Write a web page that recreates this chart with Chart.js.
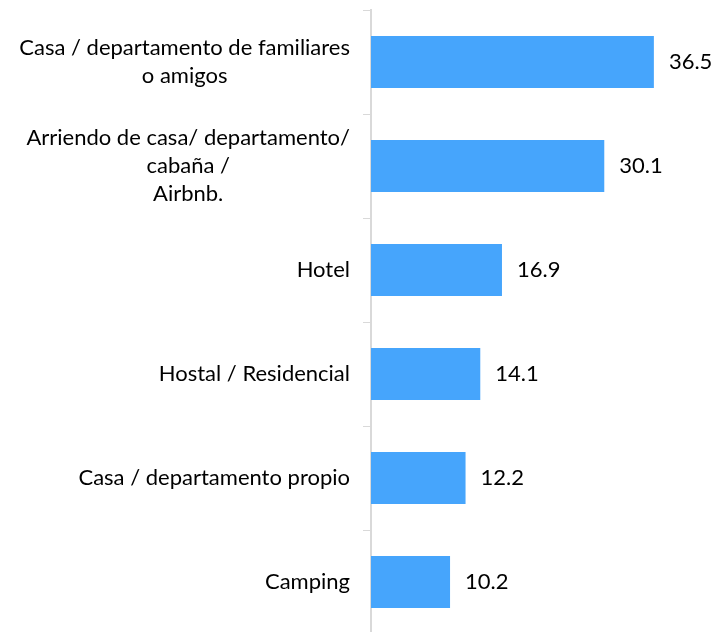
<!DOCTYPE html>
<html>
<head>
<meta charset="utf-8">
<script src="https://cdn.jsdelivr.net/npm/chart.js@4"></script>
<style>
  html, body { margin: 0; padding: 0; background: #fff; overflow: hidden; }
</style>
</head>
<body>
<canvas id="chart" width="715" height="640"></canvas>
<script>
const categories = [
  ['Casa / departamento de familiares', 'o amigos'],
  ['Arriendo de casa/ departamento/', 'cabaña /', 'Airbnb.'],
  ['Hotel'],
  ['Hostal / Residencial'],
  ['Casa / departamento propio'],
  ['Camping']
];
const values = [36.5, 30.1, 16.9, 14.1, 12.2, 10.2];

const FONT = '22px Lato';
const LINE_H = 28;

// category labels: each block right aligned, its lines centred
const catLabels = {
  id: 'catLabels',
  afterDraw(chart) {
    const ctx = chart.ctx;
    const y = chart.scales.y;
    ctx.save();
    ctx.font = FONT;
    ctx.fillStyle = '#000';
    ctx.textAlign = 'center';
    ctx.textBaseline = 'middle';
    categories.forEach((lines, i) => {
      const cy = y.getPixelForValue(i);
      const widest = Math.max(...lines.map(l => ctx.measureText(l).width));
      const cx = 350 - widest / 2;
      const top = cy - (lines.length - 1) * LINE_H / 2;
      lines.forEach((l, j) => ctx.fillText(l, cx, top + j * LINE_H));
    });
    ctx.restore();
  }
};

const valueLabels = {
  id: 'valueLabels',
  afterDatasetsDraw(chart) {
    const ctx = chart.ctx;
    ctx.save();
    ctx.font = FONT;
    ctx.fillStyle = '#000';
    ctx.textAlign = 'left';
    ctx.textBaseline = 'middle';
    chart.getDatasetMeta(0).data.forEach((bar, i) => {
      ctx.fillText(values[i].toFixed(1), bar.x + 15, bar.y);
    });
    ctx.restore();
  }
};

new Chart(document.getElementById('chart'), {
  type: 'bar',
  data: {
    labels: categories,
    datasets: [{
      data: values,
      backgroundColor: '#46a5fc',
      barPercentage: 0.5,
      categoryPercentage: 1
    }]
  },
  options: {
    indexAxis: 'y',
    responsive: false,
    animation: false,
    layout: { padding: { top: 10, bottom: 6, left: 0, right: 3 } },
    plugins: { legend: { display: false }, tooltip: { enabled: false } },
    scales: {
      x: { display: false, min: 0, max: 44 },
      y: {
        grid: { drawOnChartArea: false, tickLength: 8, color: '#d9d9d9', lineWidth: 1 },
        border: { color: '#d9d9d9', width: 2 },
        ticks: { display: false },
        afterFit(scale) { scale.width = 371; }
      }
    }
  },
  plugins: [catLabels, valueLabels]
});
</script>
</body>
</html>
